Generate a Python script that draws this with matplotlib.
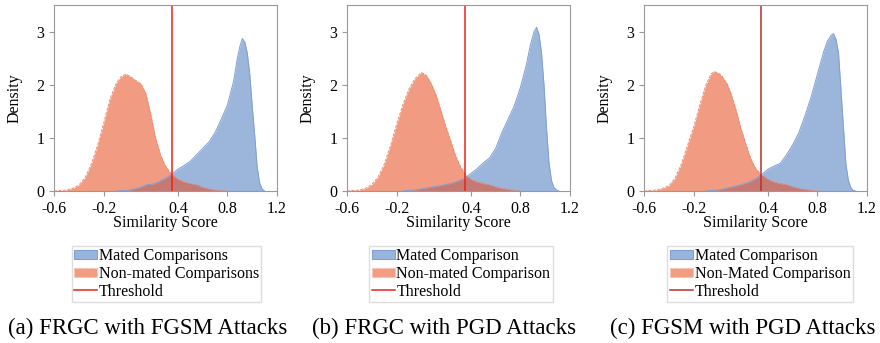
import numpy as np
import matplotlib
matplotlib.use("Agg")
import matplotlib.pyplot as plt
from matplotlib.patches import Patch
from matplotlib.lines import Line2D

plt.rcParams['font.family'] = ['Liberation Serif', 'DejaVu Serif']

# (a) FRGC with FGSM
a_mated_x = [-0.1, 0.0, 0.1, 0.15, 0.2, 0.25, 0.3, 0.35, 0.4, 0.45, 0.5, 0.55, 0.6, 0.65, 0.7,
             0.75, 0.8, 0.85, 0.88, 0.9, 0.92, 0.94, 0.96, 0.98, 1.0, 1.02, 1.04, 1.06, 1.08, 1.1]
a_mated_y = [0.0, 0.01, 0.07, 0.12, 0.13, 0.18, 0.24, 0.31, 0.41, 0.48, 0.56, 0.68, 0.8, 0.92, 1.1,
             1.35, 1.62, 2.07, 2.5, 2.72, 2.87, 2.8, 2.6, 2.2, 1.6, 1.05, 0.45, 0.15, 0.04, 0.0]
a_non_x = [-0.6, -0.5, -0.45, -0.4, -0.35, -0.3, -0.25, -0.2, -0.15, -0.1, -0.06, -0.02, 0.02, 0.06,
           0.1, 0.14, 0.18, 0.22, 0.26, 0.3, 0.35, 0.4, 0.45, 0.5, 0.55, 0.6, 0.65, 0.7, 0.8]
a_non_y = [0.0, 0.02, 0.05, 0.11, 0.25, 0.5, 0.85, 1.27, 1.72, 2.02, 2.15, 2.2, 2.15, 2.08,
           2.02, 1.85, 1.45, 1.0, 0.68, 0.47, 0.31, 0.22, 0.17, 0.14, 0.12, 0.07, 0.04, 0.02, 0.0]

# (b) FRGC with PGD
b_mated_x = [-0.15, -0.05, 0.05, 0.15, 0.25, 0.3, 0.35, 0.4, 0.45, 0.5, 0.55, 0.6, 0.65, 0.7, 0.75,
             0.8, 0.85, 0.88, 0.91, 0.93, 0.95, 0.97, 0.99, 1.01, 1.03, 1.05, 1.07, 1.09, 1.11]
b_mated_y = [0.0, 0.02, 0.06, 0.1, 0.15, 0.19, 0.24, 0.33, 0.42, 0.53, 0.62, 0.8, 1.1, 1.35, 1.6,
             1.95, 2.4, 2.75, 3.0, 3.08, 2.95, 2.6, 2.0, 1.2, 0.55, 0.2, 0.07, 0.02, 0.0]
b_non_x = [-0.6, -0.5, -0.45, -0.4, -0.35, -0.3, -0.25, -0.2, -0.15, -0.1, -0.05, 0.0, 0.04, 0.08,
           0.12, 0.16, 0.2, 0.24, 0.28, 0.32, 0.36, 0.4, 0.45, 0.5, 0.55, 0.6, 0.65, 0.7, 0.8]
b_non_y = [0.0, 0.02, 0.05, 0.12, 0.26, 0.5, 0.85, 1.25, 1.62, 1.92, 2.12, 2.23, 2.18, 2.02,
           1.8, 1.5, 1.2, 0.92, 0.64, 0.44, 0.3, 0.22, 0.17, 0.14, 0.12, 0.08, 0.05, 0.03, 0.0]

# (c) FGSM with PGD
c_mated_x = [-0.1, 0.0, 0.1, 0.2, 0.25, 0.3, 0.35, 0.4, 0.45, 0.5, 0.55, 0.6, 0.65, 0.7, 0.75,
             0.8, 0.85, 0.88, 0.91, 0.93, 0.95, 0.97, 0.99, 1.01, 1.03, 1.05, 1.07, 1.09, 1.11]
c_mated_y = [0.0, 0.02, 0.07, 0.13, 0.17, 0.23, 0.31, 0.41, 0.47, 0.52, 0.68, 0.87, 1.1, 1.42, 1.78,
             2.2, 2.62, 2.82, 2.93, 2.96, 2.85, 2.6, 1.9, 1.2, 0.5, 0.2, 0.06, 0.01, 0.0]
c_non_x = [-0.6, -0.5, -0.45, -0.4, -0.35, -0.3, -0.25, -0.2, -0.15, -0.1, -0.06, -0.035, 0.0, 0.03,
           0.07, 0.1, 0.14, 0.18, 0.22, 0.26, 0.3, 0.34, 0.4, 0.45, 0.5, 0.55, 0.6, 0.65, 0.7, 0.8]
c_non_y = [0.0, 0.02, 0.05, 0.1, 0.24, 0.5, 0.85, 1.2, 1.62, 2.0, 2.2, 2.25, 2.22, 2.16,
           2.02, 1.85, 1.55, 1.2, 0.9, 0.62, 0.43, 0.32, 0.22, 0.17, 0.14, 0.12, 0.08, 0.05, 0.03, 0.0]

thresholds = [0.35, 0.35, 0.345]
captions = ["(a) FRGC with FGSM Attacks", "(b) FRGC with PGD Attacks", "(c) FGSM with PGD Attacks"]
legend_labels = [
    ["Mated Comparisons", "Non-mated Comparisons", "Threshold"],
    ["Mated Comparison", "Non-mated Comparison", "Threshold"],
    ["Mated Comparison", "Non-Mated Comparison", "Threshold"],
]
xticks = [-0.6, -0.2, 0.4, 0.8, 1.2]
yticks = [0, 1, 2, 3]

panels = [(a_mated_x, a_mated_y, a_non_x, a_non_y),
          (b_mated_x, b_mated_y, b_non_x, b_non_y),
          (c_mated_x, c_mated_y, c_non_x, c_non_y)]

BLUE = (73/255, 120/255, 191/255)
RED = (231/255, 75/255, 28/255)
BLUE_EDGE = '#7fa0d2'
RED_EDGE = '#ec8466'
thr_colors = ['#e8231c', '#e8231c', '#b5302a']

fig = plt.figure(figsize=(8.8, 3.43), dpi=100)
W, H = 880, 343
lefts = [54, 347, 644]
leg_dx = [1, 2.5, 4.5]
cap_x = [147.5, 443.6, 743]

for i, (mx, my, nx, ny) in enumerate(panels):
    ax = fig.add_axes([lefts[i] / W, (H - 191) / H, 223 / W, 186 / H])
    ax.fill_between(mx, my, color=BLUE, alpha=0.55, linewidth=0)
    ax.plot(mx, my, color=BLUE_EDGE, lw=0.7)
    ax.fill_between(nx, ny, color=RED, alpha=0.55, linewidth=0)
    ax.plot(nx, ny, color=RED_EDGE, lw=0.6, ls='--')
    ax.axvline(thresholds[i], color=thr_colors[i], lw=1.1)
    ax.set_xlim(-0.6, 1.2)
    ax.set_ylim(0, 3.5)
    ax.set_xticks(xticks)
    ax.set_xticklabels(['-0.6', '-0.2', '0.4', '0.8', '1.2'])
    ax.set_yticks(yticks)
    ax.tick_params(labelsize=11.5, color='#999999', length=3.5)
    for s in ax.spines.values():
        s.set_color('#999999')
        s.set_linewidth(0.8)
    ax.set_xlabel("Similarity Score", fontsize=11.5, labelpad=-1)
    ax.set_ylabel("Density", fontsize=11.5, labelpad=9.5)

    handles = [Patch(facecolor=(0.6, 0.71, 0.86), edgecolor=BLUE_EDGE, lw=0.8),
               Patch(facecolor=(0.95, 0.61, 0.51), edgecolor='#f7c0b0', lw=0.8, ls='--'),
               Line2D([0], [0], color=thr_colors[i], lw=1.1)]
    ax.legend(handles, legend_labels[i], loc='upper center',
              bbox_to_anchor=(0.5 + leg_dx[i] / 223, -55 / 186), fontsize=11.5,
              frameon=True, fancybox=False, edgecolor='#dddddd', framealpha=1,
              labelspacing=0.1, handlelength=1.45, handleheight=0.5, handletextpad=0.1,
              borderpad=0.15, borderaxespad=0)

    fig.text(cap_x[i] / W, (H - 328) / H, captions[i], fontsize=16.5, ha='center', va='center')

fig.savefig('out.png', dpi=100)
